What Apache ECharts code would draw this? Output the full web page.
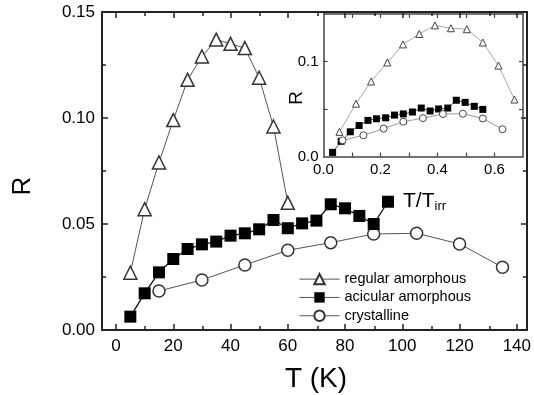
<!DOCTYPE html>
<html>
<head>
<meta charset="utf-8">
<script src="https://cdn.jsdelivr.net/npm/echarts@6/dist/echarts.min.js"></script>
<style>
html,body{margin:0;padding:0;background:#fff;}
#chart{width:534px;height:395px;}
</style>
</head>
<body>
<div id="chart"></div>
<script>
// ---- Main panel data: R vs T (K)
var tempRegular = [5,10,15,20,25,30,35,40,45,50,55,60];
var rRegular = [0.027,0.057,0.079,0.099,0.118,0.129,0.137,0.135,0.133,0.119,0.096,0.060];
var tempAcicular = [5,10,15,20,25,30,35,40,45,50,55,60,65,70,75,80,85,90,95];
var rAcicular = [0.0063,0.0173,0.0272,0.0335,0.0382,0.0404,0.0417,0.0445,0.0456,0.0475,0.0519,0.0480,0.0503,0.0516,0.0593,0.0574,0.0538,0.0500,0.0605];
var tempCrystal = [15,30,45,60,75,90,105,120,135];
var rCrystal = [0.0184,0.0236,0.0307,0.0376,0.0412,0.0453,0.0456,0.0406,0.0296];

// ---- Inset data: R vs T/Tirr
var redRegular = [0.056,0.114,0.167,0.224,0.279,0.336,0.391,0.447,0.503,0.559,0.614,0.670];
var rRegularInset = [0.0259,0.0556,0.079,0.099,0.118,0.129,0.138,0.135,0.134,0.120,0.0957,0.060];
var redAcicular = [0.032,0.062,0.094,0.125,0.156,0.186,0.218,0.249,0.280,0.312,0.343,0.374,0.404,0.436,0.466,0.497,0.529,0.559];
var rAcicularInset = [0.0043,0.016,0.026,0.0326,0.038,0.0397,0.0407,0.0436,0.0448,0.0468,0.051,0.0479,0.050,0.051,0.0592,0.057,0.0528,0.0496];
var redCrystal = [0.067,0.140,0.211,0.280,0.349,0.419,0.489,0.559,0.628];
var rCrystalInset = [0.017,0.0223,0.0294,0.0366,0.0404,0.0447,0.045,0.040,0.0287];

// ---- Tick values
var mainXLabels = [0,20,40,60,80,100,120,140];
var mainXMinor = [10,30,50,70,90,110,130];
var insetXLabels = [0,0.2,0.4,0.6];
var insetXTicks = [0.1,0.2,0.3,0.4,0.5,0.6];
var insetYLabels = [0,0.1];
var insetYTicks = [0.05,0.1];

var names = ['regular amorphous','acicular amorphous','crystalline'];

function zip(a,b){ return a.map(function(v,i){ return [v,b[i]]; }); }

var FONT = 'Liberation Sans, Arial, Helvetica, sans-serif';
var AX = '#222';

function mainX(grid, pos, labels, major){
  return {
    type:'value', gridIndex:grid, position:pos, min:-4.9, max:143.5,
    axisLine:{show:major, onZero:false, lineStyle:{color:AX, width:2}},
    axisTick:{show:true, inside:true, length: major?6:4, customValues: major?mainXLabels:mainXMinor, lineStyle:{color:AX, width:1.5}},
    axisLabel:{show:labels, customValues: mainXLabels, color:'#000', fontSize:17, fontFamily:FONT, margin:8},
    splitLine:{show:false}
  };
}
function insetX(pos, labels){
  return {
    type:'value', gridIndex:1, position:pos, min:0, max:0.7,
    axisLine:{show:true, onZero:false, lineStyle:{color:'#444', width:1.5}},
    axisTick:{show:true, inside:true, length:4, customValues: insetXTicks, lineStyle:{color:'#444', width:1.2}},
    axisLabel:{show:labels, customValues: insetXLabels, color:'#000', fontSize:15, fontFamily:FONT, margin:6,
      formatter:function(v){return v.toFixed(1);}},
    splitLine:{show:false}
  };
}
function mainY(pos, labels){
  return {type:'value', gridIndex:0, position:pos, min:0, max:0.15, interval:0.05,
     axisLine:{show:true, onZero:false, lineStyle:{color:AX, width:2}},
     axisTick:{show:true, inside:true, length:6, lineStyle:{color:AX, width:1.5}},
     minorTick:{show:true, splitNumber:2, length:4, lineStyle:{color:AX, width:1.5}},
     axisLabel:{show:labels, color:'#000', fontSize:17, fontFamily:FONT, margin:7, formatter:function(v){return v.toFixed(2);}},
     splitLine:{show:false}, minorSplitLine:{show:false}};
}
function insetY(pos, labels){
  return {type:'value', gridIndex:1, position:pos, min:0, max:0.15,
     axisLine:{show:true, onZero:false, lineStyle:{color:'#444', width:1.5}},
     axisTick:{show:true, inside:true, length:4, customValues: insetYTicks, lineStyle:{color:'#444', width:1.2}},
     axisLabel:{show:labels, customValues: insetYLabels, color:'#000', fontSize:15, fontFamily:FONT, margin:5, hideOverlap:false,
       formatter:function(v){return v.toFixed(1);}},
     splitLine:{show:false}};
}

var option = {
  animation:false,
  backgroundColor:'#fff',
  grid:[
    {left:102, right:5.5, top:12, bottom:65},
    {left:323.5, right:11, top:14, bottom:238.5},
    {left:102, right:5.5, top:12, bottom:65}
  ],
  xAxis:[
    mainX(0, 'bottom', true, true),
    mainX(0, 'top', false, true),
    insetX('bottom', true),
    insetX('top', false),
    mainX(2, 'bottom', false, false),
    mainX(2, 'top', false, false)
  ],
  yAxis:[
    mainY('left', true),
    mainY('right', false),
    insetY('left', true),
    insetY('right', false),
    {type:'value', gridIndex:2, min:0, max:0.15, show:false}
  ],
  legend:{
    orient:'vertical', left:299, top:270,
    itemWidth:40, itemHeight:13, itemGap:0,
    data:names,
    lineStyle:{color:'#555', width:1},
    textStyle:{color:'#000', fontSize:14.5, fontFamily:FONT, lineHeight:18.3},
    padding:0, selectedMode:false
  },
  series:[
    {name:names[0], type:'line', xAxisIndex:0, yAxisIndex:0, data:zip(tempRegular,rRegular),
     symbol:'triangle', symbolSize:13, z:5,
     lineStyle:{color:'#555', width:1}, itemStyle:{color:'#fff', borderColor:'#333', borderWidth:1.5}},
    {name:names[1], type:'line', xAxisIndex:0, yAxisIndex:0, data:zip(tempAcicular,rAcicular),
     symbol:'rect', symbolSize:12, z:4,
     lineStyle:{color:'#111', width:1.3}, itemStyle:{color:'#000', borderColor:'#000', borderWidth:0}},
    {name:names[2], type:'line', xAxisIndex:0, yAxisIndex:0, data:zip(tempCrystal,rCrystal),
     symbol:'circle', symbolSize:12, z:3,
     lineStyle:{color:'#555', width:1}, itemStyle:{color:'#fff', borderColor:'#333', borderWidth:1.5}},

    {name:'inset regular', type:'line', xAxisIndex:2, yAxisIndex:2, data:zip(redRegular,rRegularInset),
     symbol:'triangle', symbolSize:7, z:6,
     lineStyle:{color:'#aaa', width:1}, itemStyle:{color:'#fff', borderColor:'#444', borderWidth:1}},
    {name:'inset acicular', type:'line', xAxisIndex:2, yAxisIndex:2, data:zip(redAcicular,rAcicularInset),
     symbol:'rect', symbolSize:7, z:6,
     lineStyle:{color:'#555', width:1}, itemStyle:{color:'#000', borderWidth:0}},
    {name:'inset crystalline', type:'line', xAxisIndex:2, yAxisIndex:2, data:zip(redCrystal,rCrystalInset),
     symbol:'circle', symbolSize:7, z:6,
     lineStyle:{color:'#999', width:1}, itemStyle:{color:'#fff', borderColor:'#444', borderWidth:1}}
  ],
  graphic:[
    {type:'text', x:22.5, y:186, rotation:Math.PI/2, z:10,
     style:{text:'R', fontSize:26, fontFamily:FONT, fill:'#000', textAlign:'center', textVerticalAlign:'middle'}},
    {type:'text', x:316, y:379, z:10,
     style:{text:'T (K)', fontSize:28, fontFamily:FONT, fill:'#000', textAlign:'center', textVerticalAlign:'middle'}},
    {type:'text', x:297, y:98, rotation:Math.PI/2, z:10,
     style:{text:'R', fontSize:19, fontFamily:FONT, fill:'#000', textAlign:'center', textVerticalAlign:'middle'}},
    {type:'text', x:403, y:201, z:10,
     style:{text:'{a|T/T}{b|irr}', textAlign:'left', textVerticalAlign:'middle',
       rich:{a:{fontSize:21, fontFamily:FONT, fill:'#000', color:'#000'},
             b:{fontSize:13, fontFamily:FONT, fill:'#000', color:'#000', padding:[10,0,0,0]}}}}
  ]
};

var chart = echarts.init(document.getElementById('chart'), null, {renderer:'canvas'});
chart.setOption(option);
</script>
</body>
</html>
